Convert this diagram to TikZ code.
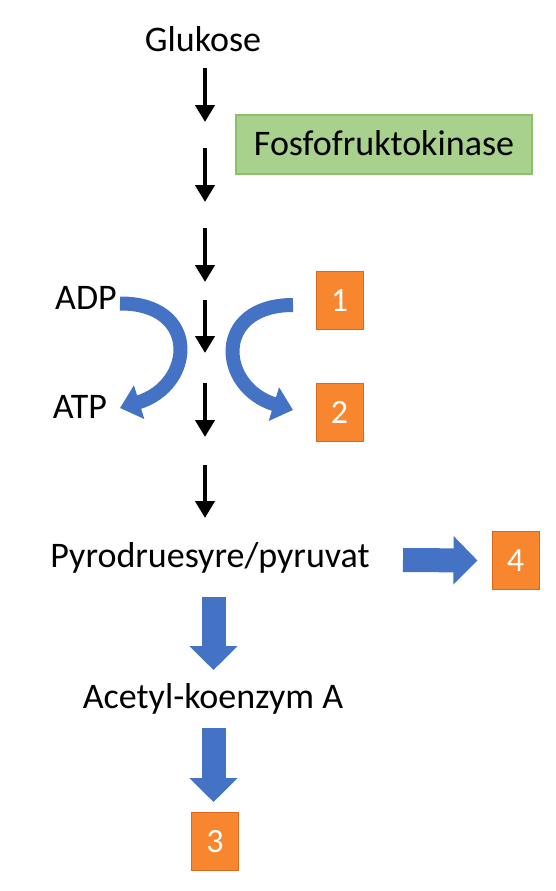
\documentclass[tikz,border=0pt]{standalone}
\usepackage{fontspec}
\setmainfont{Carlito}
\usetikzlibrary{arrows.meta}

\definecolor{pathblue}{HTML}{4472C4}
\definecolor{boxorange}{HTML}{F7862E}
\definecolor{edgeorange}{HTML}{D9691C}
\definecolor{boxgreen}{HTML}{A9D18E}
\definecolor{edgegreen}{HTML}{8CBF6A}

\tikzset{
  label/.style={inner sep=0pt, anchor=base},
  numbox/.style={draw=edgeorange, line width=1pt, fill=boxorange, text=white,
    minimum width=47pt, minimum height=58pt, inner sep=0pt},
  enzyme/.style={draw=edgegreen, line width=1.2pt, fill=boxgreen,
    minimum width=296pt, minimum height=59pt, inner sep=0pt},
  steparrow/.style={line width=4.5pt, -{Triangle[width=19pt,length=17pt]}},
  blockarrow/.style={pathblue, line width=24pt, -{Triangle[width=47pt,length=24pt]}},
  bendarrow/.style={pathblue, line width=14pt, -{Triangle[width=34pt,length=20pt]}},
}

\begin{document}
\begin{tikzpicture}[x=1pt, y=-1pt]
\useasboundingbox (0,0) rectangle (555,891);

\fontsize{36}{36}\selectfont
% metabolites
\node [label] (glu) at (203,52) {Glukose};
\node [label] (pyr) at (210,567) {Pyrodruesyre/pyruvat};
\node [label] (acc) at (213,708) {Acetyl-koenzym A};
\node [label] (adp) at (86,309) {ADP};
\node [label] (atp) at (80,418) {ATP};

% enzyme
\node [enzyme] (pfk) at (384,144.5) {};
\node [label] at (384,155) {Fosfofruktokinase};

% numbered boxes
\fontsize{34}{34}\selectfont
\node [numbox] (n1) at (339.5,300.5) {1};
\node [numbox] (n2) at (339.5,412) {2};
\node [numbox] (n4) at (515.5,560.5) {4};
\node [numbox] (n3) at (215,841.5) {3};

% glycolysis steps
\foreach \top / \bot in {68/122, 148/202, 228/282, 300/353, 383/437, 465/518}
  \draw [steparrow] (205,\top) -- (205,\bot);

% ADP -> ATP and 1 -> 2
\draw [bendarrow] (120,303.5) .. controls (200,303) and (195,385) .. (120,408);
\draw [bendarrow] (293,305) .. controls (213,305) and (218,387) .. (293,410);

% block arrows
\coordinate (pyrout) at (403,560);
\coordinate (pyrdown) at (213.5,597);
\coordinate (accdown) at (213.5,728);
\draw [blockarrow] (pyrout) -- ([xshift=-14pt]n4.west);
\draw [blockarrow] (pyrdown) -- (213.5,670);
\draw [blockarrow] (accdown) -- ([yshift=10pt]n3.north -| accdown);

\end{tikzpicture}
\end{document}
